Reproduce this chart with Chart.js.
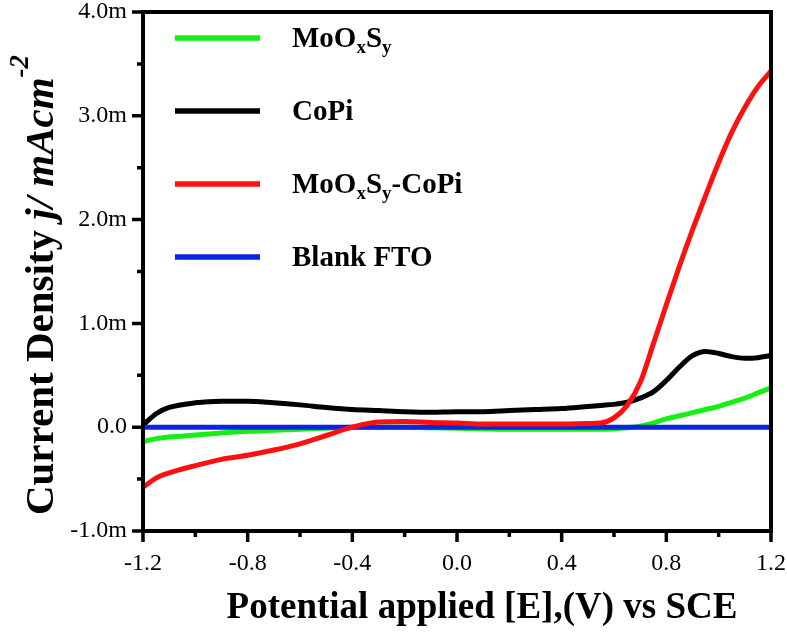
<!DOCTYPE html>
<html>
<head>
<meta charset="utf-8">
<script src="https://cdn.jsdelivr.net/npm/chart.js@4/dist/chart.umd.min.js"></script>
<style>
  body { margin: 0; background: #fff; }
  #wrap { width: 787px; height: 641px; }
</style>
</head>
<body>
<div id="wrap"><canvas id="lsv" width="787" height="641"></canvas></div>
<script>
// potential (V vs SCE) and current density (mA cm^-2)
const potential = [-1.2, -1.15, -1.1, -1.0, -0.9, -0.8, -0.7, -0.6, -0.5, -0.4, -0.3, -0.2, -0.1, 0.0, 0.1, 0.2, 0.3, 0.4, 0.5, 0.55, 0.6, 0.65, 0.7, 0.75, 0.8, 0.85, 0.9, 0.95, 1.0, 1.05, 1.1, 1.15, 1.2];
const moSy = [-0.14, -0.11, -0.095, -0.075, -0.055, -0.04, -0.03, -0.02, -0.01, 0.0, 0.0, 0.0, -0.005, -0.01, -0.015, -0.02, -0.02, -0.02, -0.02, -0.02, -0.015, -0.005, 0.01, 0.04, 0.08, 0.11, 0.14, 0.17, 0.2, 0.24, 0.28, 0.33, 0.38];
const coPi = [0.02, 0.13, 0.19, 0.235, 0.25, 0.25, 0.235, 0.215, 0.19, 0.17, 0.16, 0.15, 0.145, 0.15, 0.15, 0.16, 0.17, 0.18, 0.2, 0.21, 0.22, 0.24, 0.28, 0.34, 0.45, 0.58, 0.69, 0.73, 0.71, 0.68, 0.665, 0.67, 0.69];
const moSyCoPi = [-0.58, -0.49, -0.44, -0.37, -0.31, -0.27, -0.22, -0.16, -0.08, 0.0, 0.05, 0.055, 0.045, 0.04, 0.03, 0.03, 0.03, 0.03, 0.035, 0.04, 0.09, 0.21, 0.43, 0.8, 1.18, 1.55, 1.9, 2.23, 2.55, 2.84, 3.08, 3.28, 3.43];
const blankFto = [0, 0, 0, 0, 0, 0, 0, 0, 0, 0, 0, 0, 0, 0, 0, 0, 0, 0, 0, 0, 0, 0, 0, 0, 0, 0, 0, 0, 0, 0, 0, 0, 0];

const seriesNames = ["MoO_xS_y", "CoPi", "MoO_xS_y-CoPi", "Blank FTO"];
const seriesColors = ["#14f014", "#000000", "#ff1010", "#0a24e0"];
const seriesValues = [moSy, coPi, moSyCoPi, blankFto];
const drawOrder = [2, 3, 1, 0]; // red on top

const xTitle = "Potential applied [E],(V) vs SCE";
const yTitleParts = [
  { text: "Current Density " },
  { text: "j/ mAcm", italic: true },
  { text: "-2", italic: true, script: "sup" }
];

const SERIF = '"Liberation Serif", "Times New Roman", serif';

// "MoO_xS_y" -> rich parts with subscripts
function parseName(name) {
  const parts = [];
  for (let i = 0; i < name.length; i++) {
    if (name[i] === "_") { parts.push({ text: name[i + 1], script: "sub" }); i++; }
    else if (parts.length && !parts[parts.length - 1].script) parts[parts.length - 1].text += name[i];
    else parts.push({ text: name[i] });
  }
  return parts;
}

function drawRich(ctx, parts, x, y, size, align) {
  const fontFor = p => `${p.italic ? "italic " : ""}bold ${p.script ? Math.round(size * 0.65) : size}px ${SERIF}`;
  let total = 0;
  parts.forEach(p => { ctx.font = fontFor(p); p.w = ctx.measureText(p.text).width; total += p.w; });
  let cx = align === "center" ? x - total / 2 : x;
  ctx.textAlign = "left";
  ctx.textBaseline = "alphabetic";
  parts.forEach(p => {
    ctx.font = fontFor(p);
    const dy = p.script === "sub" ? size * 0.2 : p.script === "sup" ? -size * 0.6 : 0;
    ctx.fillText(p.text, cx, y + dy);
    cx += p.w;
  });
}

const axisDeco = {
  id: "axisDeco",
  afterDatasetsDraw(chart) {
    const { ctx, chartArea: a, scales: { x, y } } = chart;
    ctx.save();
    ctx.strokeStyle = "#000";
    ctx.lineWidth = 4;
    ctx.strokeRect(a.left, a.top, a.right - a.left, a.bottom - a.top);
    ctx.lineWidth = 3.5;
    ctx.beginPath();
    x.ticks.forEach(t => {
      const px = x.getPixelForValue(t.value);
      const len = t.label ? 11 : 6;
      ctx.moveTo(px, a.bottom); ctx.lineTo(px, a.bottom + len);
    });
    y.ticks.forEach(t => {
      const py = y.getPixelForValue(t.value);
      const len = t.label ? 11 : 6;
      ctx.moveTo(a.left, py); ctx.lineTo(a.left - len, py);
    });
    ctx.stroke();
    ctx.restore();
  },
  afterDraw(chart) {
    const { ctx } = chart;
    ctx.save();
    ctx.fillStyle = "#000";
    // legend
    seriesNames.forEach((name, i) => {
      const ly = 38 + i * 73;
      ctx.strokeStyle = seriesColors[i];
      ctx.lineWidth = 5.5;
      ctx.beginPath(); ctx.moveTo(175, ly); ctx.lineTo(260, ly); ctx.stroke();
      ctx.fillStyle = "#000";
      drawRich(ctx, parseName(name), 292, ly + 9, 29, "left");
    });
    // x title
    drawRich(ctx, [{ text: xTitle }], 482, 618, 37, "center");
    // y title
    ctx.translate(53, 285);
    ctx.rotate(-Math.PI / 2);
    drawRich(ctx, yTitleParts, 0, 0, 41, "center");
    ctx.restore();
  }
};

const datasets = seriesNames.map((name, i) => ({
  label: name.replace(/_/g, ""),
  data: potential.map((v, k) => ({ x: v, y: seriesValues[i][k] })),
  borderColor: seriesColors[i],
  borderWidth: 5,
  pointRadius: 0,
  cubicInterpolationMode: "monotone",
  order: drawOrder.indexOf(i)
}));

new Chart(document.getElementById("lsv"), {
  type: "line",
  data: { datasets },
  options: {
    responsive: false,
    animation: false,
    devicePixelRatio: 1,
    layout: { padding: { left: 0, top: 12, right: 16, bottom: 0 } },
    plugins: { legend: { display: false }, tooltip: { enabled: false } },
    scales: {
      x: {
        type: "linear",
        min: -1.2, max: 1.2,
        grid: { display: false, drawTicks: false },
        border: { display: false },
        ticks: {
          stepSize: 0.2,
          autoSkip: false,
          maxRotation: 0,
          padding: 18,
          color: "#000",
          font: { family: SERIF, size: 24 },
          callback: v => (Math.round(v * 10) % 4 === 0 ? v.toFixed(1) : "")
        },
        afterFit: s => { s.height = 110; s.paddingLeft = 0; s.paddingRight = 0; }
      },
      y: {
        min: -1, max: 4,
        grid: { display: false, drawTicks: false },
        border: { display: false },
        ticks: {
          stepSize: 0.5,
          autoSkip: false,
          padding: 16,
          color: "#000",
          font: { family: SERIF, size: 24 },
          callback: v => (Number.isInteger(v) ? (v === 0 ? "0.0" : v.toFixed(1) + "m") : "")
        },
        afterFit: s => { s.width = 143; s.paddingTop = 0; s.paddingBottom = 0; }
      }
    }
  },
  plugins: [axisDeco]
});
</script>
</body>
</html>
